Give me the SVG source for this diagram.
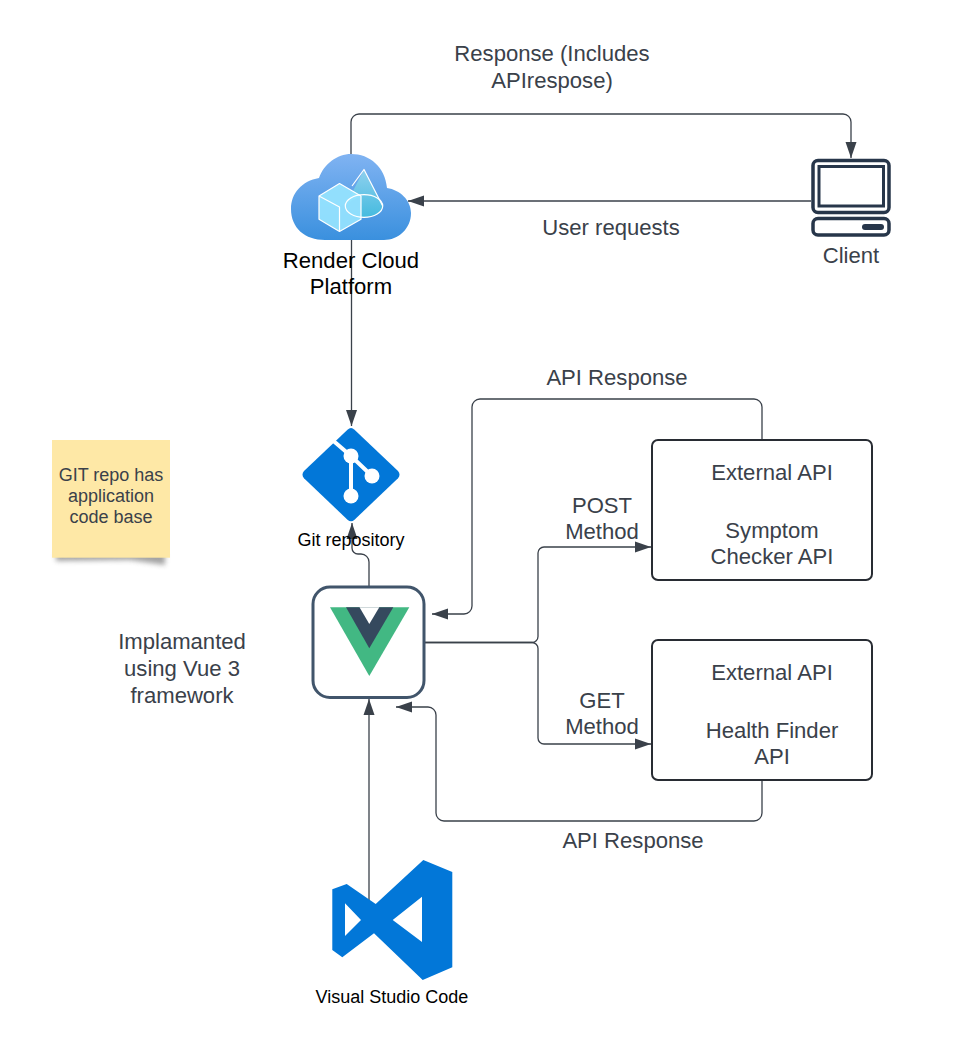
<svg xmlns="http://www.w3.org/2000/svg" width="961" height="1050" viewBox="0 0 961 1050">
<style>
text{font-family:"Liberation Sans",Arial,sans-serif;text-anchor:middle}
.l{font-size:22.1px;fill:#3a414a}
.k{font-size:22.1px;fill:#000}
.s{font-size:18px;fill:#000}
.n{font-size:18px;fill:#3a414a}
.c{fill:none;stroke:#3a414a;stroke-width:1.3}
.b{fill:#fff;stroke:#282c33;stroke-width:2}
.w{fill:none;stroke:#fff;stroke-width:1.2;stroke-linejoin:round}
</style>
<defs>
<marker id="a" markerUnits="userSpaceOnUse" markerWidth="17" markerHeight="13" refX="16" refY="6" orient="auto"><path d="M0 .5L16 6L0 11.500Z" fill="#3a414a"/></marker>
<linearGradient id="cg" x1="0" y1="0" x2="0" y2="1"><stop offset="0" stop-color="#80b3f2"/><stop offset="1" stop-color="#3a90de"/></linearGradient>
<linearGradient id="cn" x1="0" y1="0" x2="0" y2="1"><stop offset="0" stop-color="#8fd0ee"/><stop offset="1" stop-color="#45bbdf"/></linearGradient>
<filter id="bl" x="-20%" y="-100%" width="140%" height="300%"><feGaussianBlur stdDeviation="2.5"/></filter>
</defs>
<rect width="961" height="1050" fill="#fff"/>
<g id="connectors">
<path class="c" d="M351 154V122a8 8 0 0 1 8-8H843a8 8 0 0 1 8 8V158" marker-end="url(#a)"/>
<path class="c" d="M811 201H408" marker-end="url(#a)"/>
<path class="c" d="M351.500 240V426" marker-end="url(#a)"/>
<path class="c" d="M369 587V562a8 8 0 0 0-8-8H358a6 6 0 0 1-6-6V523" marker-end="url(#a)"/>
<path class="c" d="M369 903V699" marker-end="url(#a)"/>
<path class="c" d="M762 440V407a8 8 0 0 0-8-8H480a8 8 0 0 0-8 8V606a8 8 0 0 1-8 8H432" marker-end="url(#a)"/>
<path class="c" d="M762 780V813a8 8 0 0 1-8 8H444a8 8 0 0 1-8-8V715a8 8 0 0 0-8-8H396" marker-end="url(#a)"/>
<path class="c" d="M425 642.500H532a6 6 0 0 0 6-6V553a6 6 0 0 1 6-6H651" marker-end="url(#a)"/>
<path class="c" d="M425 642.500H532a6 6 0 0 1 6 6V738a6 6 0 0 0 6 6H651" marker-end="url(#a)"/>
</g>
<g id="cloud">
<path d="M325 240C305 240 291 228 291 209C291 193 302 181 319 178C324 164 337 154 351 154C370 154 385 167 387 188C400 190 411 200 411 213C411 229 398 240 384 240Z" fill="url(#cg)"/>
<path d="M364 169.500L382.700 206A18.700 11.300 0 0 1 345.300 206Z" fill="url(#cn)"/>
<path d="M339.500 183.500L361 196V219.300L339.500 231.500L319 219.300V196Z" fill="#98e6ff" fill-opacity=".9"/>
<path d="M339.500 207L361 196V219.300L339.500 231.500Z" fill="#8fdcfb" fill-opacity=".6"/>
<path class="w" d="M319 196L339.500 207V231.500M339.500 183.500L361 196V219.300L339.500 231.500L319 219.300V196Z"/>
<path class="w" d="M352 186L364 169.500L382.700 206"/>
<ellipse class="w" cx="364" cy="206" rx="18.700" ry="11.300"/>
<text class="k" x="351" y="268">Render Cloud</text>
<text class="k" x="351" y="294">Platform</text>
</g>
<g id="client">
<rect x="813" y="160.500" width="76" height="52" rx="5" fill="none" stroke="#27364a" stroke-width="3.500"/>
<rect x="819" y="166.500" width="64.500" height="39.500" fill="#fff" stroke="#27364a" stroke-width="3"/>
<rect x="813" y="218.500" width="76" height="16.500" rx="5" fill="none" stroke="#27364a" stroke-width="3.500"/>
<rect x="862" y="224" width="22" height="6" rx="3" fill="#27364a"/>
<text class="l" x="851" y="263">Client</text>
</g>
<g id="git">
<path d="M347.500 429.700Q351 426.500 354.500 429.700L398 471Q401 474.700 398 478.300L354.500 519.700Q351 523 347.500 519.700L304 478.300Q301 474.700 304 471Z" fill="#0277d8"/>
<path d="M333.500 441L351 456L372 476M351 456V496" fill="none" stroke="#fff" stroke-width="4"/>
<circle cx="351" cy="456" r="7.500" fill="#fff"/>
<circle cx="372" cy="476" r="7.500" fill="#fff"/>
<circle cx="351" cy="496" r="7.500" fill="#fff"/>
<text class="s" x="351" y="546">Git repository</text>
</g>
<g id="vue">
<rect x="313" y="587" width="111" height="110.500" rx="17" fill="#fff" stroke="#41556b" stroke-width="3"/>
<path d="M330 607.300H409.300L369.300 676Z" fill="#42b883"/>
<path d="M346 607.300H393.300L369.300 648.300Z" fill="#35495e"/>
<path d="M359.500 607.300H379.300L369.300 624Z" fill="#fff"/>
</g>
<g id="vscode">
<path fill-rule="evenodd" fill="#0277d8" d="M332.300 889.300L346.700 884L375.700 904L423.300 860L452.300 872V967.300L422.700 980L374 933.300L342.300 957.300L332.300 950ZM345 903.300V936L361 920ZM422 896.700L392.700 920L422 942Z"/>
<text class="s" x="392" y="1003">Visual Studio Code</text>
</g>
<g id="note">
<path d="M56 552H165V565L130 560L56 561Z" fill="#666" opacity=".6" filter="url(#bl)"/>
<rect x="52" y="440" width="118" height="117.700" fill="#fee8a6"/>
<text class="n" x="111" y="481">GIT repo has</text>
<text class="n" x="111" y="502">application</text>
<text class="n" x="111" y="523">code base</text>
</g>
<g id="ext1">
<rect class="b" x="652" y="440" width="220" height="140" rx="6"/>
<text class="l" x="772" y="480">External API</text>
<text class="l" x="772" y="538">Symptom</text>
<text class="l" x="772" y="564">Checker API</text>
</g>
<g id="ext2">
<rect class="b" x="652" y="640" width="220" height="140" rx="6"/>
<text class="l" x="772" y="680">External API</text>
<text class="l" x="772" y="738">Health Finder</text>
<text class="l" x="772" y="764">API</text>
</g>
<g id="labels">
<text class="l" x="552" y="61">Response (Includes</text>
<text class="l" x="552" y="88">APIrespose)</text>
<text class="l" x="611" y="234.500">User requests</text>
<text class="l" x="617" y="384.500">API Response</text>
<text class="l" x="602" y="513">POST</text>
<text class="l" x="602" y="539">Method</text>
<text class="l" x="602" y="708">GET</text>
<text class="l" x="602" y="734">Method</text>
<text class="l" x="633" y="847.500">API Response</text>
<text class="l" x="182" y="649">Implamanted</text>
<text class="l" x="182" y="676">using Vue 3</text>
<text class="l" x="182" y="703">framework</text>
</g>
</svg>
